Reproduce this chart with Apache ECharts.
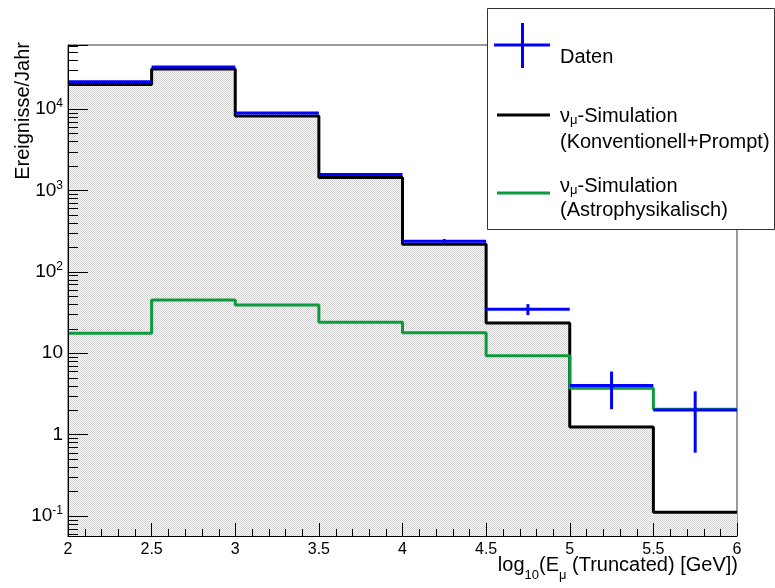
<!DOCTYPE html>
<html>
<head>
<meta charset="utf-8">
<script src="https://cdn.jsdelivr.net/npm/echarts@6/dist/echarts.min.js"></script>
<style>
  html, body { margin: 0; padding: 0; background: #fff; }
  #chart { width: 775px; height: 588px; }
</style>
</head>
<body>
<div id="chart"></div>
<script>
// bin edges of the histogram (log10 of truncated energy)
const binEdges = [2, 2.5, 3, 3.5, 4, 4.5, 5, 5.5, 6];
// nu_mu simulation, conventional + prompt
const konvPrompt = [20000, 31000, 8200, 1440, 218, 23.4, 1.24, 0.111];
// nu_mu simulation, astrophysical
const astro = [17.6, 45, 39, 24, 17.8, 9.3, 3.7, 2.05];
// measured data and its errors
const daten = [21500, 32700, 8900, 1570, 237, 34.7, 4.0, 2.0];
const datenErr = [150, 180, 95, 40, 15, 5.3, 1.95, 1.4];
// y range (events per year)
const yMin = 0.0568;
const yMax = 61000;

const FONT = "'Liberation Sans', Arial, Helvetica, sans-serif";

// histogram -> step line points
function stepPoints(vals) {
  const pts = vals.map((v, i) => [binEdges[i], v]);
  pts.push([binEdges[binEdges.length - 1], vals[vals.length - 1]]);
  return pts;
}

// dotted grey fill like the ROOT pattern
const pat = document.createElement("canvas");
pat.width = 2;
pat.height = 2;
const pctx = pat.getContext("2d");
pctx.fillStyle = "#fbfbfb";
pctx.fillRect(0, 0, 2, 2);
pctx.fillStyle = "#d2d2d2";
pctx.fillRect(0, 0, 1, 1);
pctx.fillRect(1, 1, 1, 1);

// minor ticks of the log axis (2..9 per decade)
const yMinorTicks = [];
for (let k = -2; k <= 5; k++) {
  for (let m = 2; m <= 9; m++) {
    const v = m * Math.pow(10, k);
    if (v > yMin && v < yMax) yMinorTicks.push([binEdges[0], v]);
  }
}
// minor ticks of the x axis, every 0.1
const xMinorTicks = [];
for (let i = 1; i < 40; i++) {
  if (i % 5 !== 0) xMinorTicks.push([2 + i / 10, yMin]);
}

const crossData = daten.map((v, i) => [
  (binEdges[i] + binEdges[i + 1]) / 2, v, datenErr[i], binEdges[i + 1] - binEdges[i]
]);

const chart = echarts.init(document.getElementById("chart"));

const option = {
  animation: false,
  textStyle: { fontFamily: FONT },
  grid: {
    left: 68, right: 38, top: 45, bottom: 52,
    show: true, borderColor: "#333", borderWidth: 1, backgroundColor: "transparent"
  },
  xAxis: {
    type: "value",
    min: 2,
    max: 6,
    interval: 0.5,
    z: 10,
    axisLine: { onZero: false, lineStyle: { color: "#000", width: 1 } },
    axisTick: { inside: true, length: 13, lineStyle: { color: "#000" } },
    splitLine: { show: false },
    axisLabel: { color: "#000", fontSize: 16, fontFamily: FONT, margin: 6 }
  },
  yAxis: {
    type: "log",
    logBase: 10,
    min: yMin,
    max: yMax,
    z: 10,
    axisLine: { show: true, lineStyle: { color: "#000", width: 1 } },
    axisTick: { inside: true, length: 20, lineStyle: { color: "#000" } },
    splitLine: { show: false },
    axisLabel: {
      color: "#000",
      margin: 5,
      fontFamily: FONT,
      formatter: (val) => {
        const k = Math.log10(val);
        const r = Math.round(k);
        if (Math.abs(k - r) > 1e-6) return "";
        if (r === 0) return "{m|1}";
        if (r === 1) return "{m|10}";
        return "{m|10}{e|" + r + "}";
      },
      rich: {
        m: { fontSize: 19, lineHeight: 22, fontFamily: FONT, color: "#000" },
        e: { fontSize: 12, lineHeight: 12, padding: [0, 0, 10, 0], fontFamily: FONT, color: "#000" }
      }
    }
  },
  series: [
    {
      name: "Konventionell+Prompt",
      type: "line",
      step: "end",
      data: stepPoints(konvPrompt),
      symbol: "none",
      z: 3,
      lineStyle: { color: "#000", width: 3 },
      areaStyle: { color: { image: pat, repeat: "repeat" }, opacity: 1, origin: "start" }
    },
    {
      name: "Astrophysikalisch",
      type: "line",
      step: "end",
      data: stepPoints(astro),
      symbol: "none",
      z: 4,
      lineStyle: { color: "#0b9a3c", width: 3 }
    },
    {
      name: "Daten",
      type: "custom",
      z: 5,
      encode: { x: 0, y: 1 },
      data: crossData,
      renderItem: (params, api) => {
        const x = api.value(0), y = api.value(1), e = api.value(2), w = api.value(3);
        const l = api.coord([x - w / 2, y]);
        const r = api.coord([x + w / 2, y]);
        const t = api.coord([x, y + e]);
        const b = api.coord([x, y - e]);
        const st = { stroke: "#0000ff", lineWidth: 3 };
        return {
          type: "group",
          children: [
            { type: "line", shape: { x1: l[0], y1: l[1], x2: r[0], y2: r[1] }, style: st },
            { type: "line", shape: { x1: t[0], y1: t[1], x2: b[0], y2: b[1] }, style: st }
          ]
        };
      }
    },
    {
      name: "yMinorTicks",
      type: "custom",
      z: 6,
      silent: true,
      encode: { x: 0, y: 1 },
      data: yMinorTicks,
      renderItem: (params, api) => {
        const p = api.coord([api.value(0), api.value(1)]);
        const yy = Math.round(p[1]) + 0.5;
        return {
          type: "line",
          shape: { x1: p[0], y1: yy, x2: p[0] + 10, y2: yy },
          style: { stroke: "#000", lineWidth: 1 }
        };
      }
    },
    {
      name: "xMinorTicks",
      type: "custom",
      z: 6,
      silent: true,
      encode: { x: 0, y: 1 },
      data: xMinorTicks,
      renderItem: (params, api) => {
        const p = api.coord([api.value(0), api.value(1)]);
        const xx = Math.round(p[0]) + 0.5;
        return {
          type: "line",
          shape: { x1: xx, y1: p[1], x2: xx, y2: p[1] - 7 },
          style: { stroke: "#000", lineWidth: 1 }
        };
      }
    }
  ],
  graphic: [
    // axis titles
    {
      type: "text", z: 100, x: 23, y: 42, rotation: Math.PI / 2,
      style: { text: "Ereignisse/Jahr", fontSize: 20, fontFamily: FONT, fill: "#000", align: "right", verticalAlign: "middle" }
    },
    {
      type: "text", z: 100, x: 738, y: 565,
      style: {
        text: "log{s|10}(E{s|μ} (Truncated) [GeV])",
        align: "right", verticalAlign: "middle", fill: "#000",
        fontSize: 20, fontFamily: FONT,
        rich: {
          s: { fontSize: 13, lineHeight: 13, padding: [20, 0, 0, 0], fontFamily: FONT, fill: "#000" }
        }
      }
    },
    // legend box
    {
      type: "rect", z: 100,
      shape: { x: 487.5, y: 8.5, width: 287, height: 221 },
      style: { fill: "#fff", stroke: "#333", lineWidth: 1 }
    },
    { type: "line", z: 101, shape: { x1: 494, y1: 45, x2: 550, y2: 45 }, style: { stroke: "#0000ff", lineWidth: 3 } },
    { type: "line", z: 101, shape: { x1: 522.5, y1: 23, x2: 522.5, y2: 68 }, style: { stroke: "#0000ff", lineWidth: 3 } },
    {
      type: "text", z: 101, x: 560, y: 57,
      style: { text: "Daten", fontSize: 20, fontFamily: FONT, fill: "#000", verticalAlign: "middle" }
    },
    { type: "line", z: 101, shape: { x1: 497, y1: 115, x2: 550, y2: 115 }, style: { stroke: "#000", lineWidth: 3 } },
    {
      type: "text", z: 101, x: 560, y: 116,
      style: {
        text: "ν{s|μ}-Simulation", fontSize: 20, fontFamily: FONT, fill: "#000", verticalAlign: "middle",
        rich: { s: { fontSize: 13, lineHeight: 13, padding: [9, 0, 0, 0], fontFamily: FONT, fill: "#000" } }
      }
    },
    {
      type: "text", z: 101, x: 560, y: 142,
      style: { text: "(Konventionell+Prompt)", fontSize: 20, fontFamily: FONT, fill: "#000", verticalAlign: "middle" }
    },
    { type: "line", z: 101, shape: { x1: 497, y1: 193, x2: 550, y2: 193 }, style: { stroke: "#0b9a3c", lineWidth: 3 } },
    {
      type: "text", z: 101, x: 560, y: 186,
      style: {
        text: "ν{s|μ}-Simulation", fontSize: 20, fontFamily: FONT, fill: "#000", verticalAlign: "middle",
        rich: { s: { fontSize: 13, lineHeight: 13, padding: [9, 0, 0, 0], fontFamily: FONT, fill: "#000" } }
      }
    },
    {
      type: "text", z: 101, x: 560, y: 210,
      style: { text: "(Astrophysikalisch)", fontSize: 20, fontFamily: FONT, fill: "#000", verticalAlign: "middle" }
    }
  ]
};

chart.setOption(option);
</script>
</body>
</html>
